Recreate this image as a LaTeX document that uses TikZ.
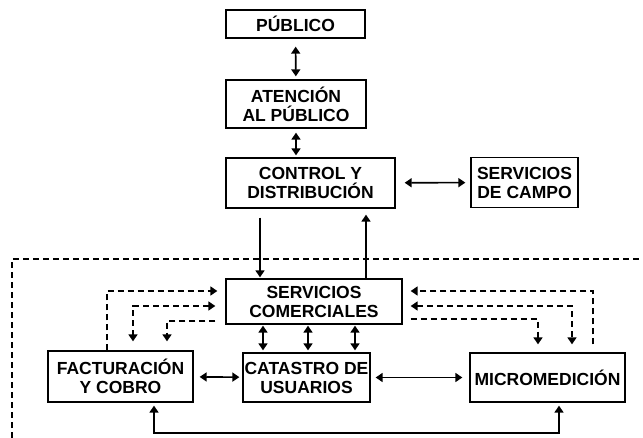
\documentclass[tikz,border=0pt]{standalone}
\usepackage{fontspec}
\setmainfont{Liberation Sans}
\usetikzlibrary{arrows.meta}
\begin{document}
\begin{tikzpicture}[x=1pt,y=-1pt,
    box/.style={draw,line width=1.3pt,align=center,inner sep=0pt,
        font=\fontsize{17.5}{19}\selectfont\bfseries},
    link/.style={line width=1.6pt,{Triangle[width=9pt,length=7pt]}-{Triangle[width=9pt,length=7pt]}},
    to/.style={line width=1.6pt,-{Triangle[width=9pt,length=7pt]}},
    dline/.style={line width=1.3pt,dash pattern=on 6pt off 4pt}]
    \useasboundingbox (0,0) rectangle (643,438);
    % bloques
    \node[box,minimum width=139pt,minimum height=28pt] (pub) at (295.5,24) {PÚBLICO};
    \node[box,minimum width=140pt,minimum height=48pt] (aten) at (296,104) {ATENCIÓN\\AL PÚBLICO};
    \node[box,minimum width=169pt,minimum height=50pt] (ctrl) at (310.5,183) {CONTROL Y\\DISTRIBUCIÓN};
    \node[box,minimum width=107pt,minimum height=50pt] (campo) at (524.5,182.5) {SERVICIOS\\DE CAMPO};
    \node[box,minimum width=176pt,minimum height=45pt] (serv) at (314,301.5) {SERVICIOS\\COMERCIALES};
    \node[box,minimum width=145pt,minimum height=51pt] (fact) at (120.5,376.5) {FACTURACIÓN\\Y COBRO};
    \node[box,minimum width=127pt,minimum height=49pt] (cat) at (306.5,377.5) {CATASTRO DE\\USUARIOS};
    \node[box,minimum width=155pt,minimum height=49pt] (micro) at (547.5,377.5) {MICROMEDICIÓN};
    % marco punteado
    \draw[dline] (12,438) -- (12,259) -- (643,259);
    % conexiones de arriba
    \draw[link,shorten <=8pt,shorten >=3pt] (pub) -- (aten);
    \draw[link,shorten <=4pt,shorten >=2pt] (aten.south) -- (aten.south |- ctrl.north);
    \draw[link,shorten <=9pt,shorten >=5pt] (ctrl) -- (campo);
    \draw[to,shorten <=9pt,shorten >=1pt] ([xshift=-50.5pt]ctrl.south) -- ([xshift=-50.5pt]ctrl.south |- serv.north);
    \draw[to,shorten >=6pt] ([xshift=55.5pt]ctrl.south |- serv.north) -- ([xshift=55.5pt]ctrl.south);
    % conexiones solidas de abajo
    \foreach \dx in {-43.5,1.5,48.5}
        \draw[link,shorten <=1pt,shorten >=2pt] ([xshift=\dx pt]cat.north |- serv.south) -- ([xshift=\dx pt]cat.north);
    \draw[link,shorten <=6pt,shorten >=3pt] (fact) -- (cat);
    \draw[link,shorten <=5pt,shorten >=7pt] (cat.east |- micro.west) -- (micro);
    \coordinate (bl) at (154,433);
    \coordinate (br) at (559,433);
    \draw[link,shorten <=3pt,shorten >=3pt] (bl |- fact.south) -- (bl) -- (br) -- (br |- micro.south);
    % conexiones punteadas, izquierda
    \draw[dline,to,shorten >=8pt] ([xshift=-13.5pt]fact.north) |- ([yshift=10.5pt]serv.west);
    \draw[dline,link,shorten <=10pt,shorten >=9pt] ([yshift=-4.5pt]serv.west) -| ([xshift=12.5pt]fact.north);
    \draw[dline,to,shorten <=10pt,shorten >=9pt] ([yshift=-19.5pt]serv.west) -| ([xshift=46.5pt]fact.north);
    % conexiones punteadas, derecha
    \draw[dline,to,shorten <=8pt,shorten >=8pt] ([xshift=45.5pt]micro.north) |- ([yshift=10.5pt]serv.east);
    \draw[dline,link,shorten <=8pt,shorten >=8pt] ([yshift=-4.5pt]serv.east) -| ([xshift=24.5pt]micro.north);
    \draw[dline,to,shorten <=8pt,shorten >=8pt] ([yshift=-17.5pt]serv.east) -| ([xshift=-9.5pt]micro.north);
\end{tikzpicture}
\end{document}
